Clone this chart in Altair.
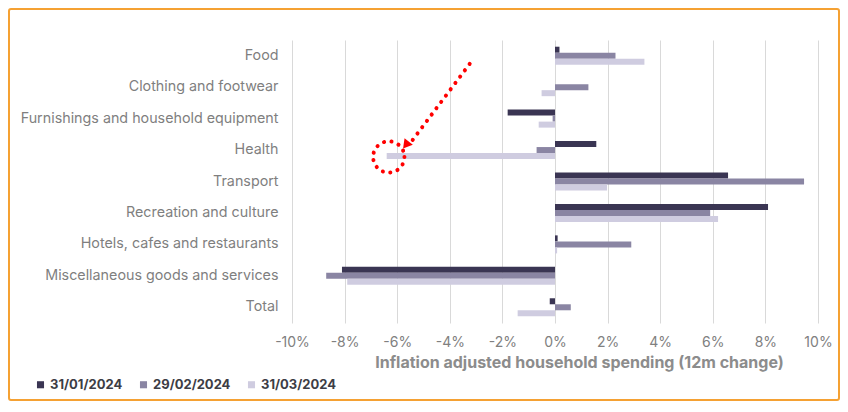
import altair as alt
import pandas as pd

categories = [
    "Food",
    "Clothing and footwear",
    "Furnishings and household equipment",
    "Health",
    "Transport",
    "Recreation and culture",
    "Hotels, cafes and restaurants",
    "Miscellaneous goods and services",
    "Total",
]
series = ["31/01/2024", "29/02/2024", "31/03/2024"]
jan = [0.17, 0.0, -1.8, 1.57, 6.58, 8.1, 0.1, -8.1, -0.2]
feb = [2.3, 1.27, -0.09, -0.7, 9.47, 5.9, 2.9, -8.7, 0.6]
mar = [3.4, -0.51, -0.62, -6.4, 1.98, 6.2, 0.08, -7.9, -1.42]
colors = ["#3a3553", "#8a85a3", "#cfcce0"]
x_ticks = [-10, -8, -6, -4, -2, 0, 2, 4, 6, 8, 10]

# annotation (red dotted arrow + circle), x in % units, y in category-row units
arrow_x = [-3.24, -5.41]
arrow_y = [0.755, 3.175]
head_x = [-5.67]
head_y = [3.34]
circle_x = [-6.32]
circle_y = [3.72]

rows = []
for s, vals in zip(series, [jan, feb, mar]):
    for c, v in zip(categories, vals):
        rows.append({"category": c, "series": s, "value": v})
df = pd.DataFrame(rows)

xscale = alt.Scale(domain=[-10, 10], nice=False, zero=False)

bars = alt.Chart(df).mark_bar().encode(
    x=alt.X("value:Q", scale=xscale,
            axis=alt.Axis(values=x_ticks, labelExpr="datum.value + '%'",
                          title="Inflation adjusted household spending (12m change)",
                          grid=True, gridColor="#d9d9d9", gridWidth=1,
                          domain=False, ticks=False, labelPadding=12, labelFlush=False,
                          labelColor="#808080", labelFontSize=14, labelFont="Inter",
                          titleFont="Inter", titleFontSize=16, titleFontWeight="bold",
                          titleColor="#8c8c8c", titleX=287, titleY=39,
                          titleBaseline="middle")),
    y=alt.Y("category:N", sort=categories,
            scale=alt.Scale(paddingInner=0.427, paddingOuter=0.2135),
            axis=alt.Axis(title=None, domain=False, ticks=False, labelPadding=14,
                          labelColor="#7f7f7f", labelFontSize=14.3, labelFont="Inter",
                          labelLimit=400)),
    yOffset=alt.YOffset("series:N", sort=series, scale=alt.Scale(paddingInner=0, paddingOuter=0)),
    color=alt.Color("series:N", sort=series,
                    scale=alt.Scale(domain=series, range=colors),
                    legend=alt.Legend(title=None, orient="none", direction="horizontal",
                                      legendX=-258, legendY=338, symbolType="square",
                                      symbolSize=50, symbolStrokeWidth=0,
                                      labelFont="Inter", labelFontSize=13,
                                      labelFontWeight="bold", labelColor="#3d3d45",
                                      columnPadding=14, labelOffset=3)),
)

yq = alt.Scale(domain=[0, 9], reverse=True, nice=False, zero=False)

arrow_df = pd.DataFrame({"x": arrow_x, "y": arrow_y})
line = alt.Chart(arrow_df).mark_line(
    color="#ff0000", strokeWidth=4, strokeDash=[0.1, 7.8], strokeCap="round"
).encode(x=alt.X("x:Q", scale=xscale), y=alt.Y("y:Q", scale=yq, axis=None))

head = alt.Chart(pd.DataFrame({"x": head_x, "y": head_y})).mark_point(
    shape="triangle-up", filled=True, color="#ff0000", size=110, angle=218, opacity=1
).encode(x=alt.X("x:Q", scale=xscale), y=alt.Y("y:Q", scale=yq, axis=None))

circ = alt.Chart(pd.DataFrame({"x": circle_x, "y": circle_y})).mark_point(
    shape="circle", filled=False, color="#ff0000", size=980, strokeWidth=4,
    strokeDash=[0.1, 7.5], strokeCap="round", opacity=1
).encode(x=alt.X("x:Q", scale=xscale), y=alt.Y("y:Q", scale=yq, axis=None))

border = alt.Chart(pd.DataFrame({"a": [0]})).mark_rect(
    filled=False, stroke="#f5a133", strokeWidth=2, cornerRadius=2
).encode(x=alt.value(-283), x2=alt.value(547), y=alt.value(-31), y2=alt.value(360))

chart = alt.layer(bars, line, head, circ, border).resolve_scale(
    y="independent"
).properties(
    width=526, height=283, autosize="none",
    padding={"left": 284, "top": 32, "right": 22, "bottom": 78},
).configure_view(stroke=None)

chart.save("out.html", embed_options={"renderer": "svg", "actions": False})
